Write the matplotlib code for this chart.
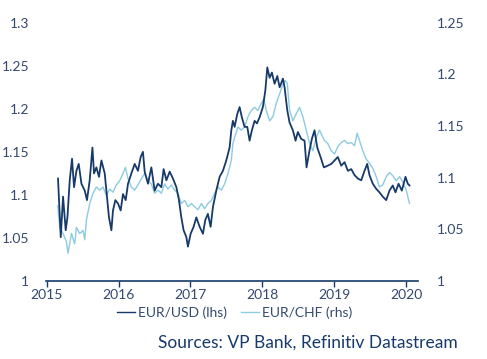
import matplotlib
matplotlib.use("Agg")
import matplotlib.pyplot as plt
from matplotlib.lines import Line2D

plt.rcParams['font.family'] = ['Lato', 'DejaVu Sans']

# EUR/USD (linke Achse)
usd_t = [2015.157, 2015.195, 2015.227, 2015.264, 2015.288, 2015.320, 2015.352, 2015.380,
         2015.413, 2015.445, 2015.483, 2015.529, 2015.560, 2015.598, 2015.636, 2015.658,
         2015.691, 2015.727, 2015.761, 2015.807, 2015.839, 2015.866, 2015.900, 2015.922,
         2015.955, 2015.992, 2016.029, 2016.061, 2016.099, 2016.131, 2016.178, 2016.224,
         2016.270, 2016.307, 2016.339, 2016.363, 2016.409, 2016.456, 2016.502, 2016.548,
         2016.595, 2016.627, 2016.665, 2016.711, 2016.757, 2016.804, 2016.840, 2016.873,
         2016.905, 2016.943, 2016.965, 2017.003, 2017.044, 2017.082, 2017.128, 2017.174,
         2017.207, 2017.243, 2017.281, 2017.313, 2017.360, 2017.406, 2017.452, 2017.499,
         2017.545, 2017.569, 2017.591, 2017.615, 2017.652, 2017.684, 2017.716, 2017.754,
         2017.791, 2017.823, 2017.855, 2017.893, 2017.925, 2017.962, 2018.008, 2018.042,
         2018.070, 2018.102, 2018.134, 2018.171, 2018.209, 2018.241, 2018.287, 2018.310,
         2018.348, 2018.380, 2018.426, 2018.463, 2018.495, 2018.542, 2018.588, 2018.616,
         2018.658, 2018.690, 2018.727, 2018.765, 2018.811, 2018.857, 2018.912, 2018.960,
         2019.006, 2019.051, 2019.099, 2019.145, 2019.191, 2019.238, 2019.284, 2019.330,
         2019.377, 2019.423, 2019.460, 2019.492, 2019.538, 2019.586, 2019.631, 2019.677,
         2019.725, 2019.770, 2019.816, 2019.854, 2019.896, 2019.942, 2019.993, 2020.025,
         2020.049]
usd = [1.119, 1.051, 1.098, 1.059, 1.074, 1.117, 1.142, 1.109,
       1.128, 1.136, 1.113, 1.105, 1.094, 1.117, 1.155, 1.125,
       1.132, 1.121, 1.140, 1.125, 1.098, 1.074, 1.059, 1.082,
       1.094, 1.090, 1.082, 1.101, 1.094, 1.113, 1.125, 1.136,
       1.128, 1.144, 1.150, 1.127, 1.113, 1.132, 1.105, 1.113,
       1.109, 1.130, 1.117, 1.127, 1.119, 1.109, 1.094, 1.074,
       1.059, 1.051, 1.040, 1.055, 1.063, 1.074, 1.063, 1.055,
       1.071, 1.078, 1.063, 1.086, 1.105, 1.121, 1.128, 1.140,
       1.155, 1.175, 1.186, 1.179, 1.194, 1.202, 1.190, 1.179,
       1.179, 1.163, 1.175, 1.186, 1.183, 1.190, 1.202, 1.221,
       1.248, 1.236, 1.242, 1.229, 1.238, 1.225, 1.235, 1.225,
       1.198, 1.184, 1.175, 1.163, 1.173, 1.165, 1.163, 1.132,
       1.152, 1.165, 1.175, 1.155, 1.144, 1.132, 1.134, 1.136,
       1.140, 1.144, 1.134, 1.138, 1.128, 1.130, 1.123, 1.119,
       1.117, 1.128, 1.136, 1.123, 1.113, 1.107, 1.103, 1.098,
       1.094, 1.105, 1.111, 1.103, 1.113, 1.105, 1.121, 1.113,
       1.111]

# EUR/CHF (rechte Achse)
chf_t = [2015.153, 2015.181, 2015.227, 2015.274, 2015.296, 2015.344, 2015.389, 2015.413,
         2015.459, 2015.505, 2015.529, 2015.552, 2015.598, 2015.644, 2015.691, 2015.737,
         2015.783, 2015.830, 2015.876, 2015.922, 2015.969, 2016.015, 2016.061, 2016.095,
         2016.131, 2016.178, 2016.224, 2016.270, 2016.317, 2016.363, 2016.409, 2016.456,
         2016.502, 2016.548, 2016.595, 2016.641, 2016.687, 2016.734, 2016.780, 2016.826,
         2016.873, 2016.919, 2016.965, 2017.013, 2017.058, 2017.104, 2017.152, 2017.197,
         2017.243, 2017.291, 2017.337, 2017.383, 2017.430, 2017.476, 2017.522, 2017.569,
         2017.591, 2017.615, 2017.661, 2017.708, 2017.754, 2017.800, 2017.847, 2017.893,
         2017.939, 2017.986, 2018.022, 2018.056, 2018.102, 2018.147, 2018.195, 2018.241,
         2018.287, 2018.320, 2018.348, 2018.380, 2018.426, 2018.473, 2018.519, 2018.565,
         2018.612, 2018.658, 2018.704, 2018.751, 2018.797, 2018.843, 2018.866, 2018.912,
         2018.960, 2019.006, 2019.051, 2019.099, 2019.145, 2019.191, 2019.238, 2019.284,
         2019.321, 2019.353, 2019.399, 2019.446, 2019.492, 2019.538, 2019.586, 2019.631,
         2019.677, 2019.725, 2019.770, 2019.816, 2019.864, 2019.910, 2019.955, 2020.003,
         2020.049]
chf = [1.073, 1.052, 1.046, 1.038, 1.027, 1.046, 1.036, 1.052,
       1.046, 1.049, 1.040, 1.059, 1.075, 1.085, 1.091, 1.088,
       1.091, 1.083, 1.089, 1.086, 1.093, 1.097, 1.104, 1.110,
       1.099, 1.091, 1.088, 1.093, 1.099, 1.104, 1.097, 1.094,
       1.085, 1.088, 1.085, 1.094, 1.089, 1.093, 1.088, 1.085,
       1.075, 1.078, 1.072, 1.075, 1.072, 1.069, 1.075, 1.070,
       1.075, 1.078, 1.085, 1.091, 1.088, 1.094, 1.104, 1.117,
       1.133, 1.139, 1.149, 1.146, 1.149, 1.159, 1.165, 1.168,
       1.165, 1.172, 1.176, 1.165, 1.155, 1.159, 1.172, 1.181,
       1.191, 1.194, 1.191, 1.165, 1.155, 1.162, 1.168, 1.159,
       1.146, 1.133, 1.126, 1.139, 1.146, 1.139, 1.136, 1.133,
       1.126, 1.123, 1.130, 1.134, 1.136, 1.133, 1.134, 1.131,
       1.143, 1.136, 1.126, 1.118, 1.114, 1.109, 1.101, 1.091,
       1.093, 1.101, 1.105, 1.102, 1.097, 1.101, 1.096, 1.088,
       1.075]

years = [2015, 2016, 2017, 2018, 2019, 2020]
left_ticks = [1, 1.05, 1.1, 1.15, 1.2, 1.25, 1.3]
right_ticks = [1, 1.05, 1.1, 1.15, 1.2, 1.25]

navy = '#173a6b'
light = '#8ccbe0'
txt = '#34496e'

fig = plt.figure(figsize=(4.87, 3.59), dpi=100)
ax = fig.add_axes([0.0945, 0.217, 0.7635, 0.72])
ax2 = ax.twinx()

ax.plot(usd_t, usd, color=navy, lw=1.3, zorder=3)
ax2.plot(chf_t, chf, color=light, lw=1.0)
ax.set_zorder(ax2.get_zorder() + 1)
ax.patch.set_visible(False)

ax.set_xlim(2014.99, 2020.165)
ax.set_ylim(1, 1.3)
ax2.set_ylim(1, 1.25)

ax.set_xticks(years)
ax.set_xticklabels([str(y) for y in years])
ax.set_yticks(left_ticks)
ax.set_yticklabels(['1', '1.05', '1.1', '1.15', '1.2', '1.25', '1.3'])
ax2.set_yticks(right_ticks)
ax2.set_yticklabels(['1', '1.05', '1.1', '1.15', '1.2', '1.25'])

for a in (ax, ax2):
    for s in ('top', 'left', 'right', 'bottom'):
        a.spines[s].set_visible(False)
ax.spines['bottom'].set_visible(True)
ax.spines['bottom'].set_color(navy)
ax.spines['bottom'].set_linewidth(1.2)

ax.tick_params(axis='x', length=4, width=1, color=navy, labelcolor=txt, labelsize=10, pad=2)
ax.tick_params(axis='y', length=0, labelcolor=txt, labelsize=10, pad=12)
ax2.tick_params(axis='y', length=0, labelcolor=txt, labelsize=10, pad=14)

# Legende mit duennen Linien
h1 = Line2D([], [], color=navy, lw=1.0)
h2 = Line2D([], [], color=light, lw=1.0)
fig.legend(handles=[h1, h2], labels=['EUR/USD (lhs)', 'EUR/CHF (rhs)'],
           loc='center', bbox_to_anchor=(0.482, 0.128), ncol=2,
           frameon=False, fontsize=10, handlelength=1.3, handletextpad=0.2,
           columnspacing=1.0, labelcolor=txt)

fig.text(0.940, 0.045, 'Sources: VP Bank, Refinitiv Datastream', ha='right', va='center',
         fontsize=12.5, color=navy)

fig.savefig('out.png', dpi=100)
